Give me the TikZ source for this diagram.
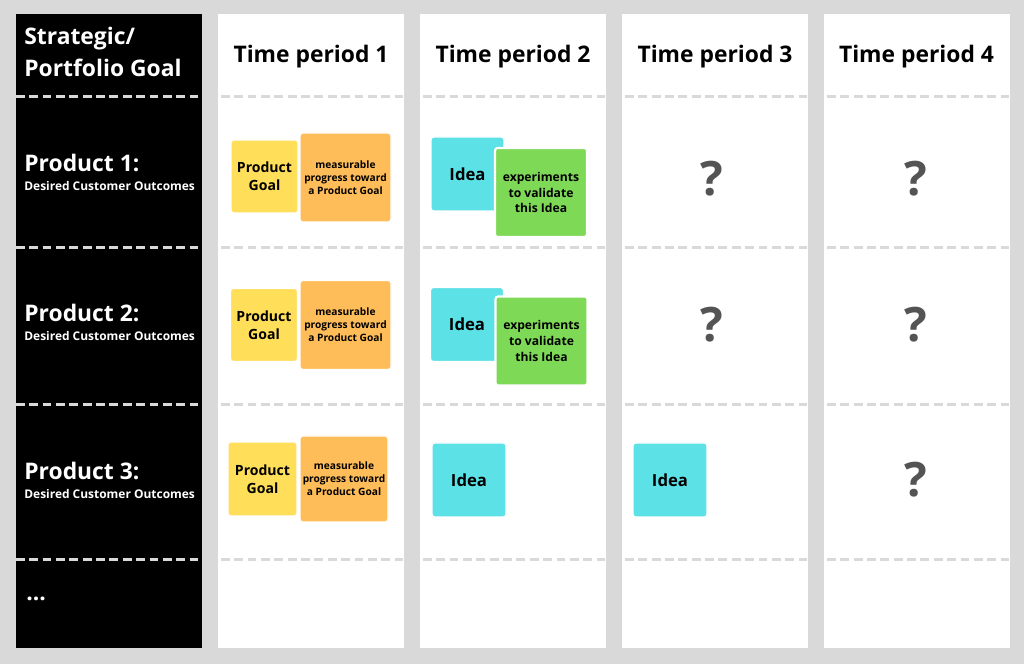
\documentclass[tikz,border=0pt]{standalone}
\usepackage{fontspec}
\setmainfont{Open Sans}
\usetikzlibrary{positioning}
\colorlet{gridColor}{black!15}
\definecolor{goalColor}{HTML}{FFDE59}
\definecolor{progColor}{HTML}{FFBD59}
\definecolor{ideaColor}{HTML}{5CE1E6}
\definecolor{expColor}{HTML}{7ED957}
\definecolor{askColor}{HTML}{545454}
\tikzset{
  rowline/.style={gridColor,line width=1.7pt,dash pattern=on 5pt off 2.6pt},
  head/.style={white,font=\fontsize{13}{15}\selectfont\bfseries,inner sep=0pt},
  period/.style={black,font=\fontsize{13}{15}\selectfont\bfseries,inner sep=0pt},
  product/.style={white,font=\fontsize{13}{15}\selectfont\bfseries,inner sep=0pt},
  outcome/.style={white,font=\fontsize{6.8}{8}\selectfont\bfseries,inner sep=0pt},
  note/.style={rounded corners=1.5pt,draw=white,line width=0.8pt,align=center,inner sep=1pt},
  goalnote/.style={note,fill=goalColor,minimum width=1.34cm,minimum height=1.46cm,
    font=\fontsize{8}{10.2}\selectfont\bfseries},
  prognote/.style={note,fill=progColor,minimum width=1.82cm,minimum height=1.78cm,
    font=\fontsize{5.8}{7.4}\selectfont\bfseries},
  ideanote/.style={note,fill=ideaColor,minimum width=1.46cm,minimum height=1.48cm,
    font=\fontsize{9.5}{11}\selectfont\bfseries},
  expnote/.style={note,fill=expColor,minimum width=1.84cm,minimum height=1.78cm,
    line width=1.2pt,font=\fontsize{6.9}{9}\selectfont\bfseries},
  ask/.style={askColor,font=\fontsize{27}{30}\selectfont\bfseries,inner sep=0pt}
}
\begin{document}
\begin{tikzpicture}
  % board and columns
  \fill [gridColor] (0,0) rectangle (20.48,13.28);
  \fill [black] (0.32,0.32) rectangle (4.04,13.00);
  \foreach \x in {4.36,8.40,12.44,16.48}
    \fill [white] (\x,0.32) rectangle ++(3.71,12.68);
  \foreach \y in {11.34,8.32,5.18,2.08} {
    \draw [rowline] (0.32,\y) -- (4.04,\y);
    \foreach \x in {4.36,8.40,12.44,16.48}
      \draw [rowline] (\x+0.06,\y) -- ++(3.65,0);
  }
  % headers
  \node [head,anchor=base west] (strat) at (0.48,12.38) {Strategic/};
  \node [head,anchor=base west] (portf) at (0.48,11.74) {Portfolio Goal};
  \foreach \x/\n in {6.22/1,10.26/2,14.30/3,18.33/4}
    \node [period,anchor=base] (tp\n) at (\x,12.02) {Time period \n};
  % products
  \foreach \y/\n in {9.84/1,6.84/2,3.68/3} {
    \node [product,anchor=base west] (prod\n) at (0.48,\y) {Product \n:};
    \node [outcome,anchor=base west] (out\n) at (0.48,\y-0.38) {Desired Customer Outcomes};
  }
  \node [product,anchor=base west] (more) at (0.52,1.26) {...};
  % row 1
  \node [goalnote] (goalA) at (5.29,9.75) {Product\\Goal};
  \node [prognote] (progA) at (6.91,9.73) {measurable\\progress toward\\a Product Goal};
  \node [ideanote] (ideaA) at (9.35,9.80) {Idea};
  \node [expnote] (expA) at (10.82,9.43) {experiments\\to validate\\this Idea};
  % row 2
  \node [goalnote] (goalB) at (5.28,6.78) {Product\\Goal};
  \node [prognote] (progB) at (6.91,6.78) {measurable\\progress toward\\a Product Goal};
  \node [ideanote] (ideaB) at (9.34,6.79) {Idea};
  \node [expnote] (expB) at (10.83,6.46) {experiments\\to validate\\this Idea};
  % row 3
  \node [goalnote,minimum width=1.38cm,minimum height=1.48cm] (goalC) at (5.25,3.70) {Product\\Goal};
  \node [prognote,minimum width=1.76cm,minimum height=1.72cm] (progC) at (6.88,3.70) {measurable\\progress toward\\a Product Goal};
  \node [ideanote,minimum width=1.48cm] (ideaC) at (9.38,3.68) {Idea};
  \node [ideanote,minimum width=1.48cm] (ideaD) at (13.40,3.68) {Idea};
  % open cells
  \node [ask] (askA3) at (14.24,9.70) {?};
  \node [ask] (askA4) at (18.32,9.70) {?};
  \node [ask] (askB3) at (14.24,6.78) {?};
  \node [ask] (askB4) at (18.32,6.78) {?};
  \node [ask] (askC4) at (18.32,3.68) {?};
\end{tikzpicture}
\end{document}
